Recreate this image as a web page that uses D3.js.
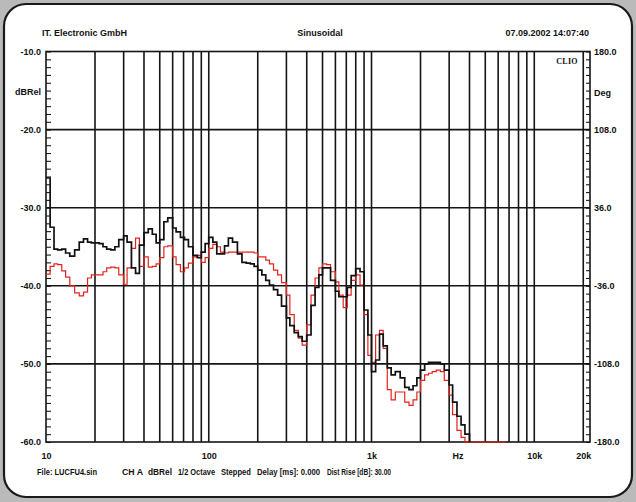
<!DOCTYPE html>
<html>
<head>
<meta charset="utf-8">
<script src="https://cdn.jsdelivr.net/npm/d3@7"></script>
<style>
  body { margin: 0; background: #bababa; }
  svg text { font-family: "Liberation Sans", Arial, sans-serif; font-weight: bold; font-size: 9px; fill: #111; }
</style>
</head>
<body>
<svg id="chart" width="636" height="502"></svg>
<script>
// frequency steps (Hz), 1/12 octave
const freqs = [10, 10.6, 11.2, 11.8, 12.5, 13.2, 14, 15, 16, 17, 18, 19, 20, 21.2, 22.4, 23.6, 25, 26.5, 28, 30,
    31.5, 33.5, 35.5, 37.5, 40, 42.5, 45, 47.5, 50, 53, 56, 60, 63, 67, 71, 75, 80, 85, 90, 95,
    100, 106, 112, 118, 125, 132, 140, 150, 160, 170, 180, 190, 200, 212, 224, 236, 250, 265, 280, 300,
    315, 335, 355, 375, 400, 425, 450, 475, 500, 530, 560, 600, 630, 670, 710, 750, 800, 850, 900, 950,
    1000, 1060, 1120, 1180, 1250, 1320, 1400, 1500, 1600, 1700, 1800, 1900, 2000, 2120, 2240, 2360, 2500, 2650, 2800, 3000,
    3150, 3350, 3550, 3750, 4000, 4250, 4500, 4750, 5000, 5300, 5600, 6000, 6300, 6700];

// black trace (dBRel)
const blackDb = [-26.2, -32.5, -35.3, -35.4, -35.3, -35.8, -36.2, -35.4, -34.4, -34.0,
    -34.4, -34.5, -34.5, -34.6, -35.0, -35.3, -35.4, -35.0, -34.1, -33.6,
    -34.4, -37.7, -38.4, -34.8, -33.2, -32.7, -33.4, -34.5, -34.1, -31.8,
    -31.3, -32.6, -33.1, -33.8, -34.1, -35.0, -36.1, -36.4, -35.7, -34.6,
    -33.8, -34.4, -35.9, -35.9, -34.9, -33.9, -34.4, -35.9, -37.0, -37.1,
    -37.2, -37.5, -38.0, -38.6, -39.3, -39.9, -40.5, -41.2, -42.6, -44.1,
    -45.1, -46.0, -46.5, -47.1, -46.3, -42.5, -40.2, -38.6, -37.7, -37.7,
    -39.3, -40.7, -41.4, -41.4, -40.2, -38.7, -37.8, -38.2, -43.1, -46.3,
    -51.0, -49.5, -46.2, -47.7, -50.5, -51.4, -51.0, -51.8, -53.0, -53.3,
    -52.8, -51.8, -50.8, -50.0, -49.8, -49.8, -49.8, -50.0, -50.8, -52.7,
    -54.9, -56.7, -57.8, -59.0, -60.0];

// red trace (dBRel)
const redDb = [-38.5, -37.5, -37.2, -37.3, -38.1, -38.9, -40.0, -40.9, -41.3, -40.8,
    -39.0, -38.6, -38.6, -38.6, -38.2, -37.7, -37.6, -37.7, -38.6, -39.8,
    -37.7, -35.2, -33.9, -37.5, -36.3, -37.6, -37.5, -37.2, -36.4, -35.0,
    -34.9, -36.3, -37.3, -38.2, -37.7, -37.1, -36.3, -36.1, -37.0, -36.4,
    -35.2, -34.7, -35.0, -35.7, -35.8, -35.7, -35.7, -35.7, -35.7, -35.7,
    -35.7, -35.8, -36.3, -36.3, -36.7, -37.2, -38.0, -38.6, -39.6, -41.2,
    -43.7, -45.7, -46.7, -47.6, -45.0, -41.2, -39.0, -37.7, -37.2, -37.3,
    -38.2, -39.5, -41.2, -42.8, -41.2, -39.3, -38.6, -39.9, -43.7, -48.9,
    -49.8, -46.3, -45.7, -48.0, -53.3, -54.6, -53.6, -53.6, -54.9, -55.3,
    -54.6, -53.6, -52.1, -51.4, -51.2, -51.0, -50.8, -51.0, -52.1, -54.0,
    -56.5, -58.5, -59.4, -60.0, -60.0, -60.0, -60.0, -60.0, -60.0, -60.0,
    -60.0, -60.0, -60.0, -60.0];

const dbTicks = [-60, -50, -40, -30, -20, -10];
const degTicks = [-180, -108, -36, 36, 108, 180];
const hzTicks = [10, 100, 1000, 10000, 20000];
const hzLabels = ["10", "100", "1k", "10k", "20k"];

const footerLabels = ["File: LUCFU4.sin", "CH A", "dBRel", "1/2 Octave", "Stepped",
    "Delay [ms]: 0.000", "Dist Rise [dB]: 30.00"];

let svg = d3.select("#chart");
let plotLeft = 46, plotRight = 590, plotTop = 51.5, plotBottom = 442;

let x = d3.scaleLog().domain([10, 22000]).range([plotLeft, plotRight]);
let y = d3.scaleLinear().domain([-60, -10]).range([plotBottom, plotTop]);
let yDeg = d3.scaleLinear().domain([-180, 180]).range([plotBottom, plotTop]);

let fmt = d3.formatLocale({decimal: ".", thousands: ",", grouping: [3], currency: ["", ""], minus: "-"}).format(".1f");

// frame
svg.append("rect")
    .attr("x", 4).attr("y", 4)
    .attr("width", 628).attr("height", 493)
    .attr("rx", 22)
    .attr("fill", "#fff")
    .attr("stroke", "#1a1a1a")
    .attr("stroke-width", 2.2);

// grid
let grid = svg.append("g")
    .attr("stroke", "#151515")
    .attr("stroke-width", 1.6);

grid.selectAll("line.v")
    .data(x.ticks().filter((f)=>f > 10 && f < 22000))
    .enter().append("line")
    .attr("x1", (d)=>x(d)).attr("x2", (d)=>x(d))
    .attr("y1", plotTop).attr("y2", plotBottom);

grid.selectAll("line.h")
    .data(dbTicks.slice(1, -1))
    .enter().append("line")
    .attr("x1", plotLeft).attr("x2", plotRight)
    .attr("y1", (d)=>y(d)).attr("y2", (d)=>y(d));

grid.append("rect")
    .attr("x", plotLeft).attr("y", plotTop)
    .attr("width", plotRight - plotLeft).attr("height", plotBottom - plotTop)
    .attr("fill", "none");

// left axis
let leftMinor = svg.append("g")
    .attr("transform", `translate(${plotLeft},0)`)
    .call(d3.axisLeft(y).tickValues(d3.range(-60, -9, 1)).tickSize(-5).tickFormat(""));

let leftMajor = svg.append("g")
    .attr("transform", `translate(${plotLeft},0)`)
    .call(d3.axisLeft(y).tickValues(dbTicks).tickSize(0).tickPadding(5).tickFormat(fmt));

// right axis
let rightMinor = svg.append("g")
    .attr("transform", `translate(${plotRight},0)`)
    .call(d3.axisRight(yDeg).tickValues(d3.range(-180, 181, 7.2)).tickSize(-4).tickFormat(""));

let rightMajor = svg.append("g")
    .attr("transform", `translate(${plotRight},0)`)
    .call(d3.axisRight(yDeg).tickValues(degTicks).tickSize(0).tickPadding(4).tickFormat(fmt));

// bottom axis
let bottomAxis = svg.append("g")
    .attr("transform", `translate(0,${plotBottom})`)
    .call(d3.axisBottom(x).tickValues(hzTicks).tickSize(0).tickPadding(11)
        .tickFormat((d, i)=>hzLabels[i]));

[leftMinor, leftMajor, rightMinor, rightMajor, bottomAxis].forEach((g)=>{
    g.attr("font-size", null).attr("font-family", null);
    g.select(".domain").remove();
    g.selectAll("line").attr("stroke", "#1a1a1a").attr("stroke-width", 1.1);
});

svg.append("text").attr("x", 41).attr("y", 95).attr("text-anchor", "end").text("dBRel");
svg.append("text").attr("x", 594).attr("y", 96).text("Deg");
svg.append("text").attr("x", 458).attr("y", 459).attr("text-anchor", "middle").text("Hz");

svg.append("text")
    .attr("x", 567).attr("y", 64)
    .attr("text-anchor", "middle")
    .style("font-family", "'Liberation Serif', serif")
    .style("font-size", "8px")
    .style("letter-spacing", "0.3px")
    .text("CLIO");

// header
svg.append("text").attr("x", 42).attr("y", 36).text("IT. Electronic GmbH");
svg.append("text").attr("x", 320).attr("y", 36).attr("text-anchor", "middle").text("Sinusoidal");
svg.append("text").attr("x", 589).attr("y", 36).attr("text-anchor", "end").text("07.09.2002 14:07:40");

// footer: the scanned font is narrow, so squeeze each item into its slot
let footerSlots = [[37, 60], [122, 21], [148, 24], [178, 37], [221, 30], [257, 63], [327, 64]];

svg.selectAll("text.foot")
    .data(footerLabels)
    .enter().append("text")
    .attr("class", "foot")
    .attr("x", (d, i)=>footerSlots[i][0]).attr("y", 475)
    .attr("textLength", (d, i)=>footerSlots[i][1])
    .attr("lengthAdjust", "spacingAndGlyphs")
    .text((d)=>d);

// traces
let line = d3.line()
    .x((d)=>x(d.f))
    .y((d)=>y(d.v))
    .curve(d3.curveStepAfter);

let redData = redDb.map((v, i)=>({f: freqs[i], v: v}));
let blackData = blackDb.map((v, i)=>({f: freqs[i], v: v}));

svg.append("path")
    .datum(redData)
    .attr("d", line)
    .attr("fill", "none")
    .attr("stroke", "#e3231b")
    .attr("stroke-width", 1.2);

svg.append("path")
    .datum(blackData)
    .attr("d", line)
    .attr("fill", "none")
    .attr("stroke", "#111")
    .attr("stroke-width", 1.7);
</script>
</body>
</html>
